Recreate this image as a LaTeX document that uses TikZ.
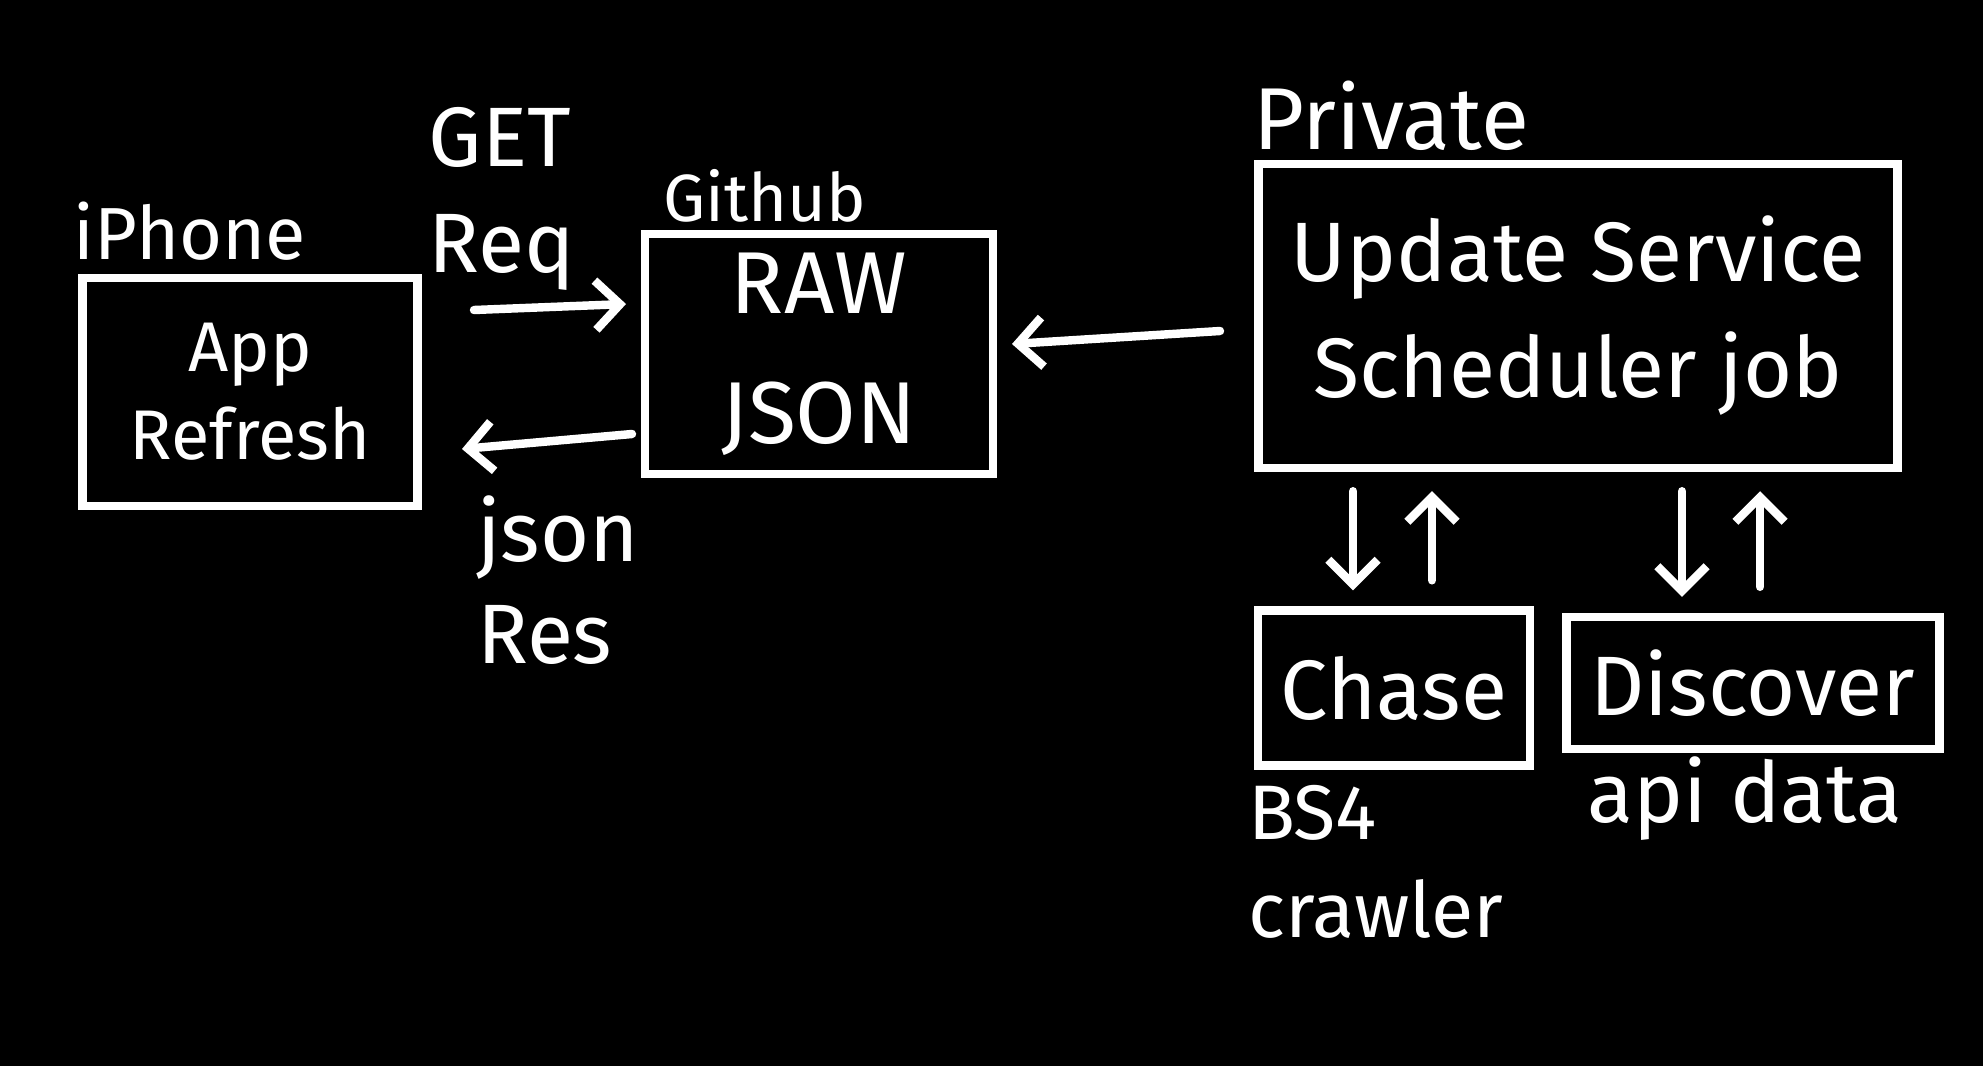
\documentclass[tikz,border=0pt]{standalone}
\usepackage{fontspec}
\setmainfont{Fira Sans}
\usetikzlibrary{arrows.meta}

\tikzset{
  box/.style={draw=white, line width=2.4pt, text=white, align=center, inner sep=0pt},
  lbl/.style={text=white, inner sep=0pt},
  flow/.style={draw=white, line width=2.4pt, line cap=round,
    -{Straight Barb[length=7pt,width=14pt,line width=2.4pt]}},
}

\begin{document}
\begin{tikzpicture}
    \useasboundingbox (0,0) rectangle (19.83,-10.65);
    \fill [black] (-0.2,0.2) rectangle (20.03,-10.85);
    % boxes
    \node [box, minimum width=3.35cm, minimum height=2.28cm,
      font=\fontsize{20}{25}\selectfont] (app) at (2.50,-3.92) {App\\Refresh};
    \node [box, minimum width=3.48cm, minimum height=2.40cm,
      font=\fontsize{25}{37}\selectfont] (raw) at (8.19,-3.54) {RAW\\JSON};
    \node [box, minimum width=6.39cm, minimum height=3.04cm,
      font=\fontsize{24}{33}\selectfont] (upd) at (15.78,-3.16) {Update Service\\Scheduler job};
    \node [box, minimum width=2.72cm, minimum height=1.55cm,
      font=\fontsize{24}{30}\selectfont] (chase) at (13.94,-6.88) {Chase};
    \node [box, minimum width=3.73cm, minimum height=1.32cm,
      font=\fontsize{24}{30}\selectfont] (disc) at (17.53,-6.83) {Discover};
    % labels
    \node [lbl, font=\fontsize{21}{25}\selectfont] (iphone) at (1.90,-2.31) {iPhone};
    \node [lbl, font=\fontsize{19}{25}\selectfont] (github) at (7.65,-1.96) {Github};
    \node [lbl, font=\fontsize{25}{30}\selectfont] (private) at (13.91,-1.16) {Private};
    \node [lbl, font=\fontsize{24}{30}\selectfont, align=left] (get) at (5.02,-1.99) {GET\\Req};
    \node [lbl, font=\fontsize{24}{29}\selectfont, align=left] (res) at (5.58,-5.80) {json\\Res};
    \node [lbl, font=\fontsize{22}{28}\selectfont, align=left] (bs) at (13.76,-8.62) {BS4\\crawler};
    \node [lbl, font=\fontsize{24}{30}\selectfont] (api) at (17.45,-7.99) {api data};
    % arrow ends
    \coordinate (getS) at (4.74,-3.10);
    \coordinate (getE) at (6.26,-3.04);
    \coordinate (resS) at (6.32,-4.34);
    \coordinate (resE) at (4.62,-4.49);
    \coordinate (updS) at (12.20,-3.31);
    \coordinate (updE) at (10.12,-3.44);
    % connectors
    \draw [flow] (getS) -- (getE);
    \draw [flow] (resS) -- (resE);
    \draw [flow] (updS) -- (updE);
    \draw [flow] ([xshift=-0.41cm,yshift=-0.19cm]upd.south -| chase) -- ([xshift=-0.41cm,yshift=0.16cm]chase.north);
    \draw [flow] ([xshift=0.38cm,yshift=0.26cm]chase.north) -- ([xshift=0.38cm,yshift=-0.19cm]upd.south -| chase);
    \draw [flow] ([xshift=-0.71cm,yshift=-0.19cm]upd.south -| disc) -- ([xshift=-0.71cm,yshift=0.16cm]disc.north);
    \draw [flow] ([xshift=0.07cm,yshift=0.26cm]disc.north) -- ([xshift=0.07cm,yshift=-0.19cm]upd.south -| disc);
\end{tikzpicture}
\end{document}
